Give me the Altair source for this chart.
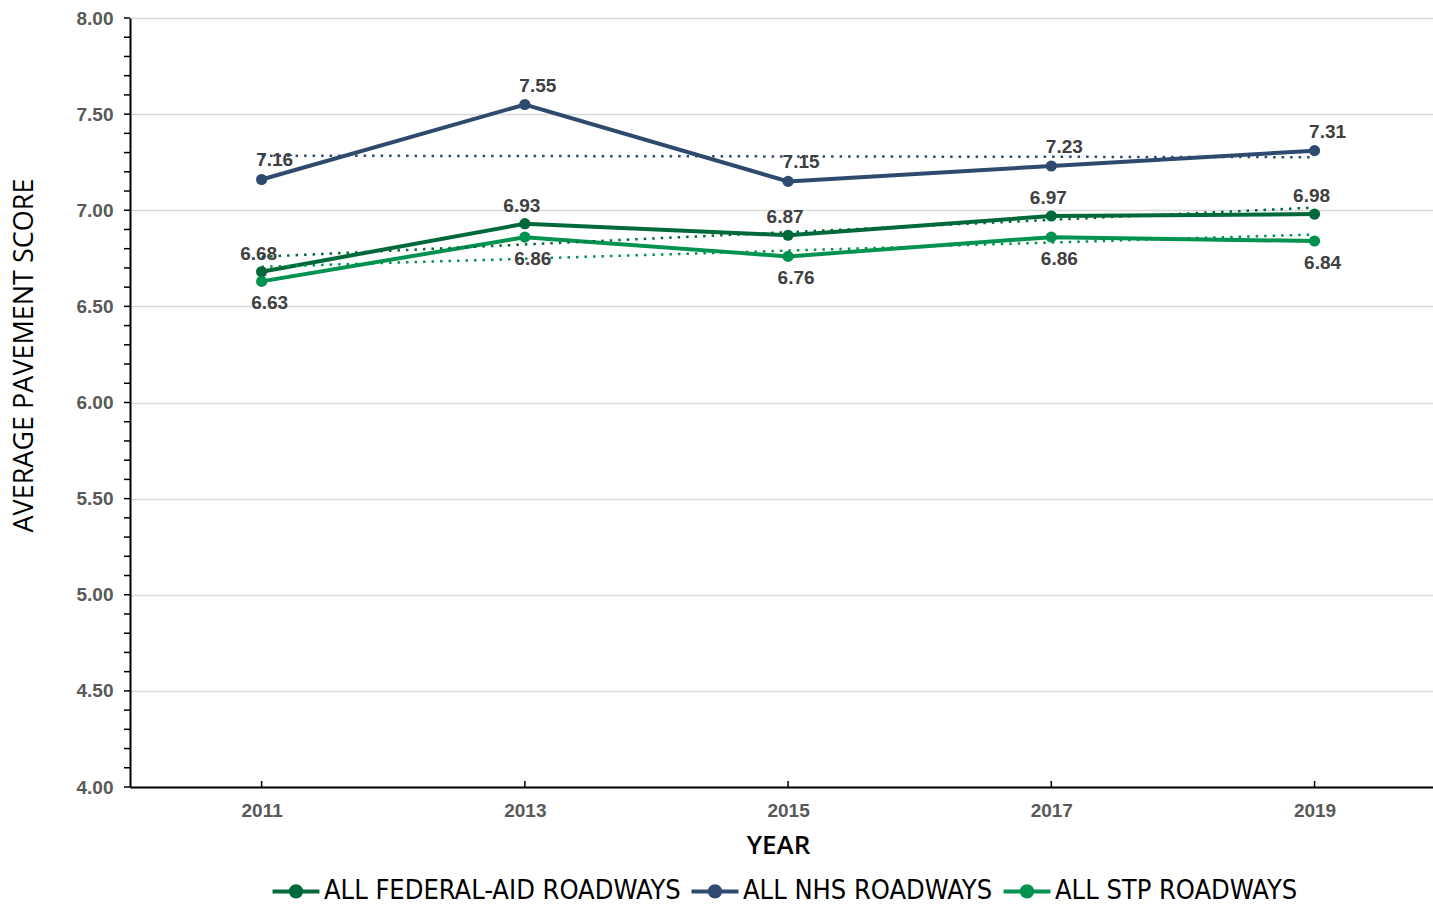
import altair as alt
import pandas as pd

# Average pavement score by survey year
years = [2011, 2013, 2015, 2017, 2019]
federal_aid = [6.68, 6.93, 6.87, 6.97, 6.98]
nhs = [7.16, 7.55, 7.15, 7.23, 7.31]
stp = [6.63, 6.86, 6.76, 6.86, 6.84]

series_names = ["ALL FEDERAL-AID ROADWAYS", "ALL NHS ROADWAYS", "ALL STP ROADWAYS"]
series_colors = ["#00693a", "#2e4a6e", "#00934f"]
y_major = [round(4 + 0.5 * i, 1) for i in range(9)]
y_minor = [round(4 + 0.1 * i, 1) for i in range(41)]

rows = []
for name, vals in zip(series_names, [federal_aid, nhs, stp]):
    for yr, v in zip(years, vals):
        rows.append({"year": yr, "score": v, "series": name})
df = pd.DataFrame(rows)

font = "Liberation Sans"
x_scale = alt.Scale(domain=[2010, 2019.9], nice=False, zero=False)
y_scale = alt.Scale(domain=[4, 8], nice=False, zero=False)
color_scale = alt.Scale(domain=series_names, range=series_colors)

x_enc = alt.X(
    "year:Q", scale=x_scale,
    axis=alt.Axis(
        values=years, format="d", title="YEAR", ticks=False, grid=False,
        domainColor="#000000", domainWidth=2,
        labelFont=font, labelFontWeight="bold", labelFontSize=19, labelColor="#595959",
        labelPadding=14,
        titleFont="Open Sans", titleFontWeight=600, titleFontSize=26, titleColor="#000000",
        titleX=648, titleY=66, titleBaseline="alphabetic",
    ),
)
y_enc = alt.Y(
    "score:Q", scale=y_scale,
    axis=alt.Axis(
        values=y_major, format=".2f", title="AVERAGE PAVEMENT SCORE",
        ticks=False, labelOverlap=False,
        gridColor="#d9d9d9", gridWidth=1.5,
        domainColor="#000000", domainWidth=2,
        labelFont=font, labelFontWeight="bold", labelFontSize=19, labelColor="#595959",
        labelPadding=17,
        titleFont="Open Sans", titleFontWeight="normal", titleFontSize=27, titleColor="#000000",
        titleX=-92, titleY=337, titleAngle=270,
    ),
)

# legend glyph: a short line with a dot in the middle
legend = alt.Legend(
    title=None, orient="none", direction="horizontal",
    legendX=152, legendY=859,
    symbolType="M-2,0L2,0M0.44,0A0.44,0.44,0,1,1,-0.44,0A0.44,0.44,0,1,1,0.44,0",
    symbolSize=550, symbolStrokeWidth=4, symbolOpacity=1,
    labelFont="DejaVu Sans Condensed, Liberation Sans", labelFontSize=27, labelColor="#000000",
    labelLimit=600, columnPadding=2, labelOffset=14,
)
color_enc = alt.Color("series:N", scale=color_scale, legend=legend)

base = alt.Chart(df)

lines = base.mark_line(strokeWidth=4).encode(x=x_enc, y=y_enc, color=color_enc)

trends = base.transform_regression(
    "year", "score", groupby=["series"]
).mark_line(strokeWidth=2.5, strokeDash=[2.5, 6]).encode(
    x="year:Q", y="score:Q", color=color_enc,
)

points = base.mark_point(filled=True, size=125, opacity=1).encode(
    x="year:Q", y="score:Q", color=color_enc,
)

# y-axis tick marks every 0.1, pointing outward
y_tick_marks = alt.Chart(pd.DataFrame({"tick": y_minor})).mark_rule(
    color="#000000", strokeWidth=1.5
).encode(
    y="tick:Q", x=alt.value(-6), x2=alt.value(0)
)

# x-axis tick marks drawn inward from the axis line
x_tick_marks = alt.Chart(pd.DataFrame({"year": years})).mark_rule(
    color="#000000", strokeWidth=1.5
).encode(
    x="year:Q", y=alt.value(769), y2=alt.value(763)
)

def value_labels(name, dx, dy):
    return base.transform_filter(alt.datum.series == name).mark_text(
        font=font, fontWeight="bold", fontSize=19, color="#404040", dx=dx, dy=dy
    ).encode(x="year:Q", y="score:Q", text=alt.Text("score:Q", format=".2f"))

labels = (
    value_labels(series_names[0], -3, -18)
    + value_labels(series_names[1], 13, -19)
    + value_labels(series_names[2], 8, 22)
)

chart = alt.layer(lines, trends, points, y_tick_marks, x_tick_marks, labels).properties(
    width=1303, height=769,
    autosize=alt.AutoSizeParams(type="none"),
    padding={"left": 130, "top": 18, "right": 0, "bottom": 117},
).configure_view(stroke=None, clip=False)

chart.save("out.html", embed_options={"renderer": "svg", "actions": False})
